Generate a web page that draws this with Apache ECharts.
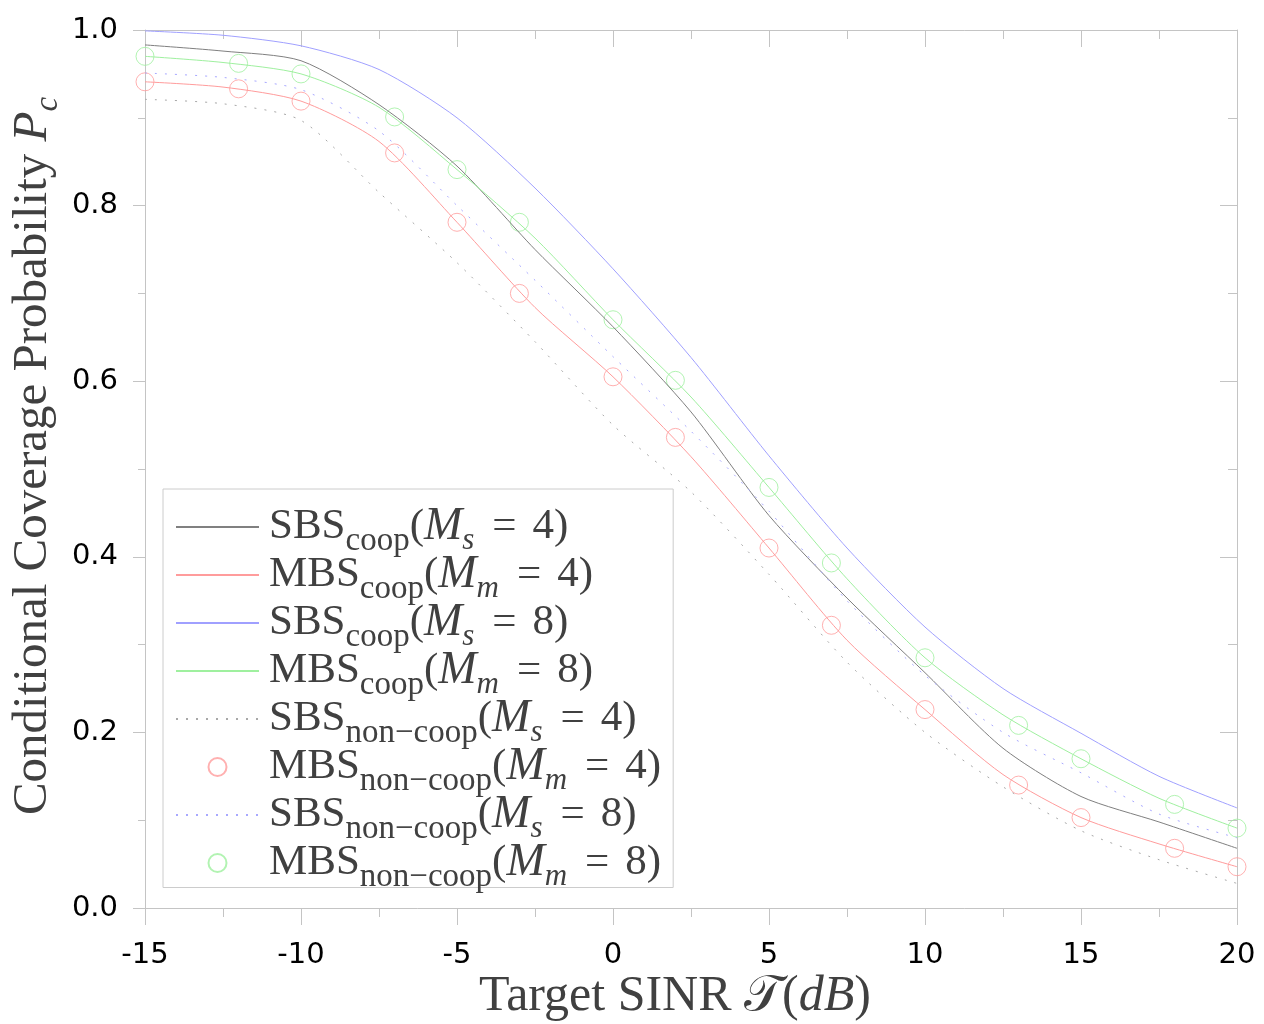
<!DOCTYPE html>
<html>
<head>
<meta charset="utf-8">
<script src="https://cdn.jsdelivr.net/npm/echarts@6/dist/echarts.min.js"></script>
<style>
  html, body { margin: 0; padding: 0; background: #fff; }
  #chart { width: 1264px; height: 1024px; }
</style>
</head>
<body>
<div id="chart"></div>
<script>
// target SINR (dB), analytic curves and simulated points
var tGrid = [-15, -12.5, -10, -7.5, -5, -2.5, 0, 2.5, 5, 7.5, 10, 12.5, 15, 17.5, 20];
var tSim = [-15, -12, -10, -7, -5, -3, 0, 2, 5, 7, 10, 13, 15, 18, 20];

var sbsCoop4 = [0.983, 0.976, 0.965, 0.915, 0.845, 0.750, 0.662, 0.565, 0.447, 0.353, 0.268, 0.182, 0.127, 0.098, 0.068];
var mbsCoop4 = [0.941, 0.935, 0.919, 0.873, 0.781, 0.684, 0.605, 0.514, 0.410, 0.305, 0.226, 0.152, 0.103, 0.073, 0.047];
var sbsCoop8 = [0.999, 0.994, 0.982, 0.955, 0.900, 0.820, 0.728, 0.627, 0.515, 0.410, 0.320, 0.250, 0.199, 0.150, 0.114];
var mbsCoop8 = [0.970, 0.963, 0.950, 0.912, 0.841, 0.763, 0.670, 0.582, 0.479, 0.375, 0.285, 0.220, 0.170, 0.125, 0.091];
var sbsNon4 = [0.921, 0.916, 0.897, 0.815, 0.735, 0.645, 0.550, 0.474, 0.380, 0.280, 0.200, 0.138, 0.088, 0.055, 0.028];
var sbsNon8 = [0.951, 0.946, 0.932, 0.885, 0.800, 0.715, 0.628, 0.543, 0.452, 0.350, 0.265, 0.200, 0.154, 0.107, 0.080];
var mbsNon4 = [0.941, 0.933, 0.919, 0.860, 0.781, 0.700, 0.605, 0.536, 0.410, 0.322, 0.226, 0.140, 0.103, 0.068, 0.047];
var mbsNon8 = [0.970, 0.962, 0.950, 0.901, 0.841, 0.781, 0.670, 0.601, 0.479, 0.393, 0.285, 0.208, 0.170, 0.118, 0.091];

var names = ['SBS_coop_s4', 'MBS_coop_m4', 'SBS_coop_s8', 'MBS_coop_m8',
             'SBS_non_s4', 'MBS_non_m4', 'SBS_non_s8', 'MBS_non_m8'];
var legendText = [
  '{n|SBS}{sb|coop}{n|(}{i|M}{is|s}{e|=}{n|4)}',
  '{n|MBS}{sb|coop}{n|(}{i|M}{is|m}{e|=}{n|4)}',
  '{n|SBS}{sb|coop}{n|(}{i|M}{is|s}{e|=}{n|8)}',
  '{n|MBS}{sb|coop}{n|(}{i|M}{is|m}{e|=}{n|8)}',
  '{n|SBS}{sb|non−coop}{n|(}{i|M}{is|s}{e|=}{n|4)}',
  '{n|MBS}{sb|non−coop}{n|(}{i|M}{is|m}{e|=}{n|4)}',
  '{n|SBS}{sb|non−coop}{n|(}{i|M}{is|s}{e|=}{n|8)}',
  '{n|MBS}{sb|non−coop}{n|(}{i|M}{is|m}{e|=}{n|8)}'
];

function pairs(xs, ys) {
  return xs.map(function (x, i) { return [x, ys[i]]; });
}

var serif = 'Liberation Serif';
var txt = '#404040';
var axisGray = '#c4c4c4';

function lineSeries(name, xs, ys, color, type) {
  return {
    name: name, type: 'line', data: pairs(xs, ys),
    symbol: 'none', smooth: 0.25,
    lineStyle: { color: color, width: 1, type: type },
    itemStyle: { color: color, opacity: 0 }, // hides the dot in the legend icon
    xAxisIndex: 0, yAxisIndex: 0
  };
}
function pointSeries(name, xs, ys, color) {
  return {
    name: name, type: 'scatter', data: pairs(xs, ys),
    symbol: 'circle', symbolSize: 18,
    itemStyle: { color: 'rgba(255,255,255,0)', borderColor: color, borderWidth: 1 },
    xAxisIndex: 0, yAxisIndex: 0
  };
}

var chart = echarts.init(document.getElementById('chart'));
var option = {
  animation: false,
  backgroundColor: '#fff',
  grid: { left: 145, right: 27, top: 30, bottom: 116, containLabel: false, outerBoundsMode: 'none' },
  legend: {
    orient: 'vertical',
    left: 163, top: 489,
    padding: [15, 12, -6, 12],
    itemWidth: 83, itemHeight: 18, itemGap: -5.5,
    backgroundColor: '#fff',
    borderColor: '#cccccc', borderWidth: 1,
    data: names,
    formatter: function (name) { return legendText[names.indexOf(name)]; },
    textStyle: {
      padding: [0, 0, 0, 5],
      rich: {
        n: { fontFamily: serif, fontSize: 43, color: txt, lineHeight: 48 },
        e: { fontFamily: serif, fontSize: 43, color: txt, lineHeight: 48, padding: [0, 16, 0, 18] },
        sb: { fontFamily: serif, fontSize: 33, color: txt, lineHeight: 48, height: 20, verticalAlign: 'bottom' },
        i: { fontFamily: serif, fontSize: 46, fontStyle: 'italic', color: txt, lineHeight: 48 },
        is: { fontFamily: serif, fontSize: 31, fontStyle: 'italic', color: txt, lineHeight: 48, height: 20, verticalAlign: 'bottom' }
      }
    }
  },
  xAxis: [{
    type: 'value', min: -15, max: 20, interval: 5, position: 'bottom',
    name: '{n|Target SINR }{c|𝒯}{n|(}{i|dB}{n|)}',
    nameLocation: 'middle', nameGap: 63, nameMoveOverlap: false,
    nameTextStyle: {
      lineHeight: 52,
      padding: [0, 32, 0, 0],
      rich: {
        n: { fontFamily: serif, fontSize: 50, color: txt, lineHeight: 52 },
        c: { fontFamily: serif, fontSize: 50, color: txt, lineHeight: 52 },
        i: { fontFamily: serif, fontSize: 50, fontStyle: 'italic', color: txt, lineHeight: 52 }
      }
    },
    axisLine: { show: true, onZero: false, lineStyle: { color: axisGray } },
    axisTick: { show: true, inside: false, length: 17, lineStyle: { color: axisGray } },
    minorTick: { show: true, splitNumber: 2, length: 9, lineStyle: { color: axisGray } },
    axisLabel: { fontFamily: 'DejaVu Sans', fontSize: 29, color: '#000', margin: 33 },
    splitLine: { show: false }
  }, {
    type: 'value', min: -15, max: 20, interval: 5, position: 'top',
    axisLine: { show: true, onZero: false, lineStyle: { color: axisGray } },
    axisTick: { show: true, inside: true, length: 17, lineStyle: { color: axisGray } },
    minorTick: { show: true, splitNumber: 2, length: 9, lineStyle: { color: axisGray } },
    axisLabel: { show: false },
    splitLine: { show: false }
  }],
  yAxis: [{
    type: 'value', min: 0, max: 1, interval: 0.2, position: 'left',
    name: '{n|Conditional Coverage Probability }{i|P}{is|c}',
    nameLocation: 'middle', nameGap: 86, nameMoveOverlap: false,
    nameTextStyle: {
      lineHeight: 52,
      padding: [0, 0, 0, 26],
      rich: {
        n: { fontFamily: serif, fontSize: 49, color: txt, lineHeight: 52 },
        i: { fontFamily: serif, fontSize: 49, fontStyle: 'italic', color: txt, lineHeight: 52 },
        is: { fontFamily: serif, fontSize: 33, fontStyle: 'italic', color: txt, lineHeight: 52, height: 22, verticalAlign: 'bottom' }
      }
    },
    axisLine: { show: true, onZero: false, lineStyle: { color: axisGray } },
    axisTick: { show: true, inside: false, length: 12, lineStyle: { color: axisGray } },
    minorTick: { show: true, splitNumber: 2, length: 7, lineStyle: { color: axisGray } },
    axisLabel: {
      fontFamily: 'DejaVu Sans', fontSize: 29, color: '#000', margin: 27,
      formatter: function (v) { return v.toFixed(1); }
    },
    splitLine: { show: false }
  }, {
    type: 'value', min: 0, max: 1, interval: 0.2, position: 'right',
    axisLine: { show: true, onZero: false, lineStyle: { color: axisGray } },
    axisTick: { show: true, inside: true, length: 17, lineStyle: { color: axisGray } },
    minorTick: { show: true, splitNumber: 2, length: 9, lineStyle: { color: axisGray } },
    axisLabel: { show: false },
    splitLine: { show: false }
  }],
  series: [
    lineSeries(names[0], tGrid, sbsCoop4, '#808080', 'solid'),
    lineSeries(names[1], tGrid, mbsCoop4, '#ff9c9c', 'solid'),
    lineSeries(names[2], tGrid, sbsCoop8, '#a0a0ff', 'solid'),
    lineSeries(names[3], tGrid, mbsCoop8, '#9ff09f', 'solid'),
    lineSeries(names[4], tGrid, sbsNon4, '#a8a8a8', [2, 8]),
    pointSeries(names[5], tSim, mbsNon4, '#ff9c9c'),
    lineSeries(names[6], tGrid, sbsNon8, '#a8a8ff', [2, 8]),
    pointSeries(names[7], tSim, mbsNon8, '#9ff09f')
  ]
};
chart.setOption(option, true);
</script>
</body>
</html>
